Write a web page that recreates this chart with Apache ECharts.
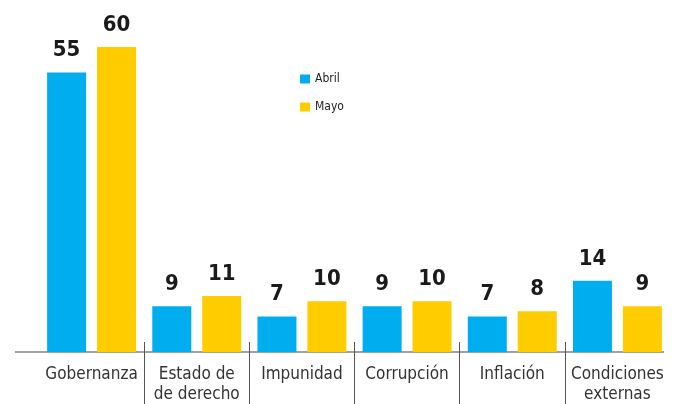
<!DOCTYPE html>
<html>
<head>
<meta charset="utf-8" />
<title>ECharts</title>
<style>
  html, body { margin: 0; padding: 0; background: #fff; }
  #main { width: 675px; height: 404px; }
</style>
<script src="https://cdn.jsdelivr.net/npm/echarts@6/dist/echarts.min.js"></script>
</head>
<body>
<div id="main"></div>
<script>
var categories = ['Gobernanza', 'Estado de\nde derecho', 'Impunidad', 'Corrupción', 'Inflación', 'Condiciones\nexternas'];
var abril = [55, 9, 7, 9, 7, 14];
var mayo = [60, 11, 10, 10, 8, 9];

var FONT = '"DejaVu Sans Condensed", "Roboto", sans-serif';

var chart = echarts.init(document.getElementById('main'));

var labelFont = {
  show: true,
  position: 'top',
  distance: 11,
  fontFamily: FONT,
  fontWeight: 'bold',
  fontSize: 22,
  color: '#1a1a1a'
};

var option = {
  animation: false,
  legend: {
    orient: 'vertical',
    left: 295,
    top: 68,
    itemWidth: 10,
    itemHeight: 9,
    itemGap: 16,
    icon: 'rect',
    textStyle: { fontFamily: FONT, fontSize: 12, color: '#222' },
    data: ['Abril', 'Mayo']
  },
  grid: [
    { left: 39, right: 5, top: 47, bottom: 52, outerBoundsMode: 'none', containLabel: false },
    // thin strip used only for the separators between groups
    { left: 39, right: 5, top: 342, bottom: 0, outerBoundsMode: 'none', containLabel: false }
  ],
  xAxis: [{
    type: 'category',
    gridIndex: 0,
    data: categories,
    axisLine: { show: false },
    axisTick: { show: false },
    axisLabel: {
      interval: 0,
      margin: 13,
      fontFamily: FONT,
      fontSize: 17,
      lineHeight: 20,
      color: '#333'
    }
  }, {
    type: 'value',
    gridIndex: 1,
    min: 0,
    max: categories.length,
    interval: 1,
    axisLine: { show: false },
    axisTick: { show: false },
    axisLabel: { show: false },
    splitLine: { show: true, showMinLine: false, showMaxLine: false, lineStyle: { color: '#555', width: 1 } }
  }],
  yAxis: [{
    type: 'value',
    gridIndex: 0,
    min: 0,
    max: 60,
    show: false,
    splitLine: { show: false }
  }, {
    type: 'value',
    gridIndex: 1,
    show: false,
    splitLine: { show: false }
  }],
  series: [{
    name: 'Abril',
    type: 'bar',
    data: abril,
    barWidth: 39,
    barGap: '28%',
    itemStyle: { color: '#00AEEF' },
    label: labelFont
  }, {
    name: 'Mayo',
    type: 'bar',
    data: mayo,
    barWidth: 39,
    itemStyle: { color: '#FFCC00' },
    label: labelFont
  }],
  graphic: [{
    type: 'line',
    shape: { x1: 15, y1: 352, x2: 664, y2: 352 },
    style: { stroke: '#444', lineWidth: 1.2 }
  }]
};

chart.setOption(option);
</script>
</body>
</html>
